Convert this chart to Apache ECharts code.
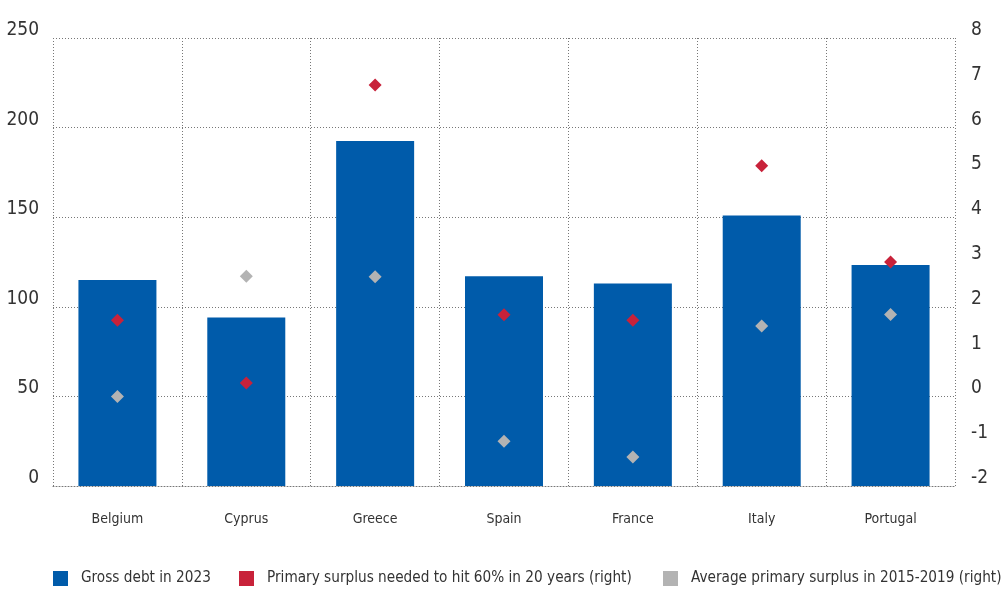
<!DOCTYPE html>
<html><head><meta charset="utf-8">
<script src="https://cdn.jsdelivr.net/npm/echarts@6/dist/echarts.min.js"></script>
<style>html,body{margin:0;padding:0;background:#fff}#c{width:1004px;height:591px}</style>
</head><body><div id="c"></div>
<script>
const categories = ['Belgium','Cyprus','Greece','Spain','France','Italy','Portugal'];
const grossDebt = [115, 94, 192.5, 117, 113, 151, 123.3];
const surplusNeeded = [1.7, 0.3, 6.95, 1.82, 1.7, 5.15, 3.0];
const avgSurplus = [0.0, 2.68, 2.67, -1.0, -1.35, 1.57, 1.83];
const leftTicks = [0, 250, 50];
const rightTicks = [-2, 8, 1];
const seriesNames = ['Gross debt in 2023','Primary surplus needed to hit 60% in 20 years (right)','Average primary surplus in 2015-2019 (right)'];

const FONT = 'DejaVu Sans Condensed';
const dotted = {color:'#777', width:1, type:[1,2]};
const legendLefts = [53, 239, 663];
const chart = echarts.init(document.getElementById('c'));
chart.setOption({
  animation:false,
  grid:{left:53,right:49,top:38,bottom:105,containLabel:false},
  legend: seriesNames.map((n,i)=>({
    left:legendLefts[i], top:571, itemWidth:15, itemHeight:15, icon:'rect', padding:0,
    textStyle:{fontFamily:FONT, fontSize:15.2, color:'#333', padding:[0,0,0,8]},
    data:[n]
  })),
  xAxis:{
    type:'category', data:categories,
    axisLine:{show:true, lineStyle:dotted},
    axisTick:{show:false},
    axisLabel:{fontFamily:FONT, fontSize:14, color:'#333', margin:26},
    splitLine:{show:true, lineStyle:dotted}
  },
  yAxis:[{
    type:'value', min:leftTicks[0], max:leftTicks[1], interval:leftTicks[2],
    axisLine:{show:false}, axisTick:{show:false},
    axisLabel:{fontFamily:FONT, fontSize:19, color:'#333', margin:14, verticalAlign:'bottom', lineHeight:16},
    splitLine:{show:true, lineStyle:dotted}
  },{
    type:'value', min:rightTicks[0], max:rightTicks[1], interval:rightTicks[2],
    axisLine:{show:false}, axisTick:{show:false},
    axisLabel:{fontFamily:FONT, fontSize:19, color:'#333', margin:16, verticalAlign:'bottom', lineHeight:16},
    splitLine:{show:false}
  }],
  series:[{
    name:seriesNames[0], type:'bar', data:grossDebt, barWidth:78,
    itemStyle:{color:'#005BAA'}, z:2
  },{
    name:seriesNames[1], type:'scatter', yAxisIndex:1,
    data:surplusNeeded, symbol:'diamond', symbolSize:13, itemStyle:{color:'#C8223A', opacity:1}, z:5
  },{
    name:seriesNames[2], type:'scatter', yAxisIndex:1,
    data:avgSurplus, symbol:'diamond', symbolSize:13, itemStyle:{color:'#B3B3B3', opacity:1}, z:5
  }]
});
</script></body></html>
